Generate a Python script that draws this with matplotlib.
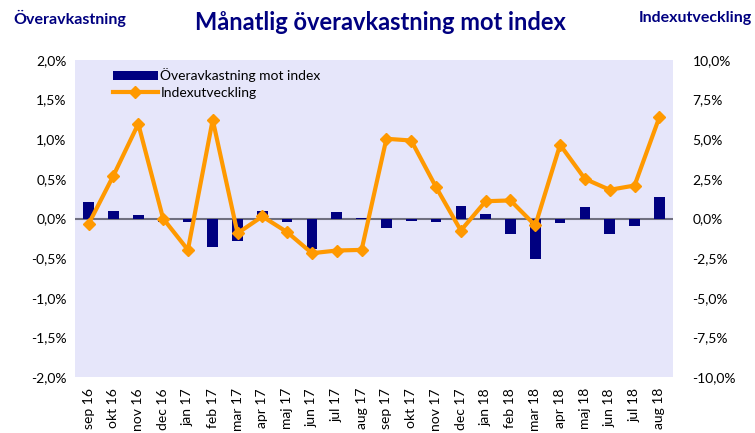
import matplotlib
matplotlib.use("Agg")
import matplotlib.pyplot as plt
from matplotlib.ticker import FuncFormatter

plt.rcParams['font.family'] = ['Lato', 'DejaVu Sans']

months = ["sep 16", "okt 16", "nov 16", "dec 16", "jan 17", "feb 17", "mar 17", "apr 17",
          "maj 17", "jun 17", "jul 17", "aug 17", "sep 17", "okt 17", "nov 17", "dec 17",
          "jan 18", "feb 18", "mar 18", "apr 18", "maj 18", "jun 18", "jul 18", "aug 18"]
overavk = [0.21, 0.10, 0.04, -0.05, -0.04, -0.36, -0.29, 0.09, -0.04, -0.38, 0.08, 0.01,
           -0.12, -0.03, -0.05, 0.16, 0.06, -0.19, -0.51, -0.06, 0.14, -0.19, -0.10, 0.27]
index_utv = [-0.34, 2.71, 5.97, 0.0, -1.98, 6.23, -0.93, 0.13, -0.86, -2.19, -2.02, -1.98,
             5.03, 4.92, 1.98, -0.76, 1.09, 1.14, -0.44, 4.65, 2.50, 1.81, 2.08, 6.39]
left_ticks = [-2.0, -1.5, -1.0, -0.5, 0.0, 0.5, 1.0, 1.5, 2.0]
right_ticks = [-10.0, -7.5, -5.0, -2.5, 0.0, 2.5, 5.0, 7.5, 10.0]

navy = "#000080"
orange = "#FF9900"

fig = plt.figure(figsize=(7.55, 4.33), dpi=100)
ax = fig.add_axes([75/755, 1-377/433, (673-75)/755, (377-60)/433])
ax.set_facecolor("#E6E6FA")
x = list(range(len(months)))
bars = ax.bar(x, overavk, width=0.43, color=navy, zorder=2, label="Överavkastning mot index")
ax.axhline(0, color="#707080", lw=1.5, zorder=1)
ax.set_ylim(-2.0, 2.0)
ax.set_yticks(left_ticks)
fmt = FuncFormatter(lambda v, p: f"{v:.1f}%".replace(".", ","))
ax.yaxis.set_major_formatter(fmt)
ax.set_xlim(-0.55, len(months) - 0.45)
ax.set_xticks(x)
ax.set_xticklabels(months, rotation=90, fontsize=10)
for s in ax.spines.values():
    s.set_visible(False)
ax.tick_params(axis='both', length=0, labelsize=10, pad=6)
ax.tick_params(axis='x', pad=8)

ax2 = ax.twinx()
line, = ax2.plot(x, index_utv, color=orange, lw=3, marker="D", markersize=6,
                 zorder=3, label="Indexutveckling")
ax2.set_ylim(-10.0, 10.0)
ax2.set_yticks(right_ticks)
ax2.yaxis.set_major_formatter(fmt)
for s in ax2.spines.values():
    s.set_visible(False)
ax2.tick_params(axis='y', length=0, labelsize=10, pad=14)

leg = ax.legend(handles=[bars, line], loc="upper left", bbox_to_anchor=(0.05, 1.0),
                frameon=False, fontsize=10, handlelength=3.2, handletextpad=0.2,
                borderaxespad=0.2, labelspacing=0.35)

fig.text(0.504, 1-22/433, "Månatlig överavkastning mot index", ha="center", va="center",
         fontsize=17, fontweight="bold", color=navy)
fig.text(13/755, 1-18/433, "Överavkastning", ha="left", va="center",
         fontsize=11.5, fontweight="bold", color=navy)
fig.text(752/755, 1-18/433, "Indexutveckling", ha="right", va="center",
         fontsize=11.5, fontweight="bold", color=navy)

fig.savefig("out.png", dpi=100)
